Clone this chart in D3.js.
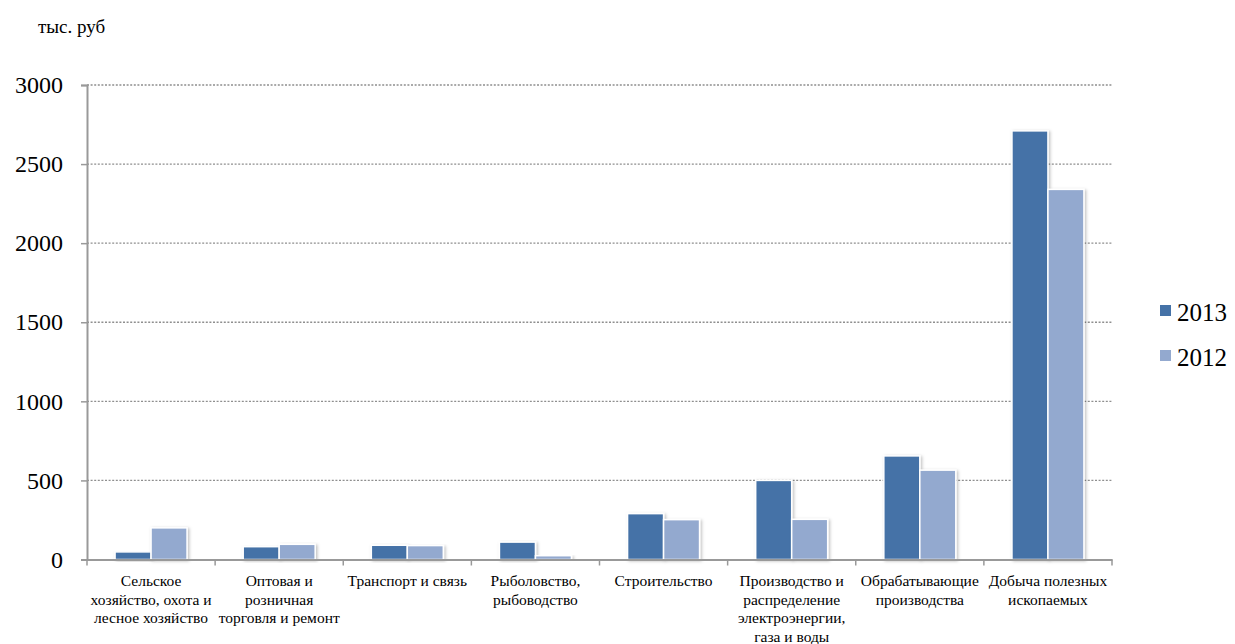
<!DOCTYPE html>
<html>
<head>
<meta charset="utf-8">
<script src="https://cdn.jsdelivr.net/npm/d3@7"></script>
</head>
<body>
<script>
// categories (line breaks as in the original labels)
const categories = [
  'Сельское\nхозяйство, охота и\nлесное хозяйство',
  'Оптовая и\nрозничная\nторговля и ремонт',
  'Транспорт и связь',
  'Рыболовство,\nрыбоводство',
  'Строительство',
  'Производство и\nраспределение\nэлектроэнергии,\nгаза и воды',
  'Обрабатывающие\nпроизводства',
  'Добыча полезных\nископаемых'
];
const seriesNames = ['2013', '2012'];
const values2013 = [48, 81, 90, 110, 290, 500, 655, 2710];
const values2012 = [200, 96, 88, 24, 252, 254, 565, 2340];
const yTicks = [0, 500, 1000, 1500, 2000, 2500, 3000];
const unitLabel = 'тыс. руб';

const colors = { '2013': '#4572A7', '2012': '#93A9CF' };
const fontStack = "'Liberation Serif', monospace";

const width = 1235;
const height = 644;
const plotLeft = 87, plotRight = 1112, plotTop = 85, plotBottom = 559.5;

d3.select('body').style('margin', '0');

const svg = d3.select('body')
  .append('svg')
  .attr('width', width)
  .attr('height', height);

// soft shadow on the bars
const defs = svg.append('defs');
const shadow = defs.append('filter').attr('id', 'shadow')
  .attr('x', '-20%').attr('y', '-10%').attr('width', '150%').attr('height', '130%');
shadow.append('feDropShadow')
  .attr('dx', 1.5).attr('dy', 1).attr('stdDeviation', 1.5)
  .attr('flood-color', '#000').attr('flood-opacity', 0.25);

// scales
const x0 = d3.scaleBand()
  .domain(categories)
  .range([plotLeft, plotRight]);

const x1 = d3.scaleBand()
  .domain(seriesNames)
  .range([0, x0.bandwidth()])
  .paddingOuter(0.78);

const y = d3.scaleLinear()
  .domain([0, 3000])
  .range([plotBottom, plotTop]);

// gridlines
svg.append('g')
  .selectAll('line')
  .data(yTicks.filter(d => d > 0))
  .enter()
  .append('line')
  .attr('x1', plotLeft)
  .attr('x2', plotRight)
  .attr('y1', d => y(d))
  .attr('y2', d => y(d))
  .attr('stroke', '#8f8f8f')
  .attr('stroke-width', 1.3)
  .attr('stroke-dasharray', '2,1.6');

// bars
const rows = categories.map((c, i) => ({ cat: c, vals: [
  { key: '2013', value: values2013[i] },
  { key: '2012', value: values2012[i] }
] }));

svg.append('g')
  .selectAll('g')
  .data(rows)
  .enter()
  .append('g')
  .attr('transform', d => 'translate(' + x0(d.cat) + ',0)')
  .selectAll('rect')
  .data(d => d.vals)
  .enter()
  .append('rect')
  .attr('x', d => x1(d.key))
  .attr('y', d => y(d.value))
  .attr('width', x1.bandwidth())
  .attr('height', d => y(0) - y(d.value))
  .attr('fill', d => colors[d.key])
  .attr('stroke', '#fff')
  .attr('stroke-width', 1.5)
  .attr('filter', 'url(#shadow)');

// y axis
const yAxis = svg.append('g')
  .attr('transform', 'translate(' + plotLeft + ',0)')
  .call(d3.axisLeft(y).tickValues(yTicks).tickSize(6).tickPadding(18).tickFormat(d3.format('d')));
yAxis.attr('font-family', null).attr('font-size', null);
yAxis.select('.domain').attr('stroke', '#999').attr('stroke-width', 2);
yAxis.selectAll('.tick line').attr('stroke', '#999').attr('stroke-width', 1.5);
yAxis.selectAll('.tick text')
  .attr('font-family', fontStack)
  .attr('font-size', 24)
  .attr('fill', '#000');

// x axis
const xAxis = svg.append('g')
  .attr('transform', 'translate(0,' + plotBottom + ')')
  .call(d3.axisBottom(x0).tickSize(0).tickPadding(0));
xAxis.attr('font-family', null).attr('font-size', null);
xAxis.select('.domain').attr('stroke', '#999').attr('stroke-width', 2);

// boundary ticks between categories
xAxis.selectAll('.sep')
  .data(categories.map(c => x0(c)).concat([x0.range()[1]]))
  .enter()
  .append('line')
  .attr('class', 'sep')
  .attr('x1', d => d).attr('x2', d => d)
  .attr('y1', 0).attr('y2', 6)
  .attr('stroke', '#999')
  .attr('stroke-width', 1.5);

xAxis.selectAll('.tick text').each(function(d) {
  const t = d3.select(this)
    .text(null)
    .attr('y', 0)
    .attr('dy', null)
    .attr('font-family', fontStack)
    .attr('font-size', 15.5)
    .attr('fill', '#000');
  d.split('\n').forEach((line, i) => {
    t.append('tspan')
      .attr('x', 0)
      .attr('y', 26.5 + i * 18.6)
      .text(line);
  });
});

// unit label
svg.append('text')
  .attr('x', 38)
  .attr('y', 33)
  .attr('font-family', fontStack)
  .attr('font-size', 19)
  .text(unitLabel);

// legend
const legend = svg.append('g')
  .attr('transform', 'translate(1160,305)');

const item = legend.selectAll('g')
  .data(seriesNames)
  .enter()
  .append('g')
  .attr('transform', (d, i) => 'translate(0,' + i * 45 + ')');

item.append('rect')
  .attr('width', 11)
  .attr('height', 11)
  .attr('fill', d => colors[d]);

item.append('text')
  .attr('x', 17)
  .attr('y', 16)
  .attr('font-family', fontStack)
  .attr('font-size', 25)
  .text(d => d);

// force layout so the serif font gets resolved before the snapshot
svg.selectAll('text').each(function() { this.getComputedTextLength(); });
</script>
</body>
</html>
